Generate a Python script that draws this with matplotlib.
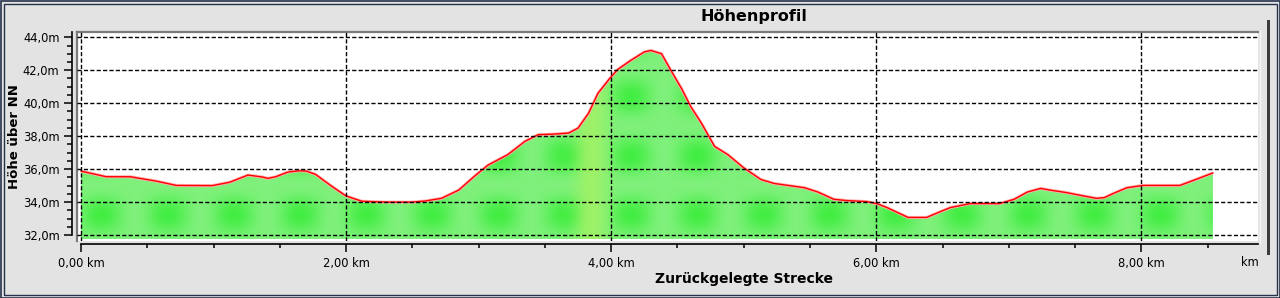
import numpy as np
import matplotlib
matplotlib.use('Agg')
import matplotlib.pyplot as plt
from matplotlib.patches import Rectangle
from matplotlib.lines import Line2D
from matplotlib.ticker import MultipleLocator

# elevation profile
distance_km = [0.00, 0.19, 0.37, 0.57, 0.72, 0.99, 1.12, 1.26, 1.37, 1.41, 1.47, 1.56,
               1.65, 1.70, 1.77, 1.89, 2.00, 2.12, 2.30, 2.50, 2.60, 2.72, 2.85, 2.97,
               3.07, 3.22, 3.35, 3.45, 3.58, 3.68, 3.75, 3.83, 3.90, 3.99, 4.05, 4.15,
               4.25, 4.30, 4.38, 4.45, 4.53, 4.60, 4.68, 4.78, 4.88, 5.00, 5.13, 5.23,
               5.46, 5.56, 5.68, 5.78, 5.93, 6.01, 6.08, 6.16, 6.24, 6.38, 6.48, 6.56,
               6.71, 6.93, 7.04, 7.14, 7.24, 7.31, 7.44, 7.54, 7.66, 7.72, 7.79, 7.89,
               8.01, 8.29, 8.41, 8.54]
elevation_m = [35.88, 35.54, 35.54, 35.27, 35.01, 35.00, 35.20, 35.64, 35.52, 35.44, 35.54, 35.82,
               35.90, 35.88, 35.68, 34.97, 34.37, 34.05, 34.00, 34.00, 34.07, 34.23, 34.73, 35.58,
               36.24, 36.88, 37.69, 38.09, 38.13, 38.19, 38.49, 39.40, 40.60, 41.51, 42.05, 42.61,
               43.11, 43.20, 43.00, 42.00, 40.90, 39.80, 38.80, 37.38, 36.88, 36.08, 35.37, 35.13,
               34.87, 34.61, 34.17, 34.09, 34.03, 33.89, 33.67, 33.37, 33.07, 33.07, 33.41, 33.67,
               33.91, 33.91, 34.17, 34.61, 34.83, 34.73, 34.57, 34.41, 34.23, 34.27, 34.53, 34.87,
               35.01, 35.01, 35.37, 35.77]

x_ticks = [0, 2, 4, 6, 8]
x_tick_labels = ['0,00 km', '2,00 km', '4,00 km', '6,00 km', '8,00 km']
y_ticks = [32, 34, 36, 38, 40, 42, 44]
y_tick_labels = ['32,0m', '34,0m', '36,0m', '38,0m', '40,0m', '42,0m', '44,0m']

W, H = 1280, 298
fig = plt.figure(figsize=(W / 100, H / 100), dpi=100, facecolor='#e3e3e3')

def px(x0, y0, x1, y1):
    # figure rect from pixel coords (top-left origin)
    return [x0 / W, 1 - y1 / H, (x1 - x0) / W, (y1 - y0) / H]

ax = fig.add_axes(px(76.5, 32, 1258, 241))
ax.set_facecolor('white')

base = 31.74
xmin, xmax = -0.034, 8.88
ax.set_xlim(xmin, xmax)
ax.set_ylim(31.64, 44.32)

# green fill with a blotchy texture clipped to the profile
poly = ax.fill_between(distance_km, elevation_m, base, color='none', lw=0)
gx = np.linspace(0, distance_km[-1], 700)
gy = np.linspace(base, max(elevation_m), 200)
X, Y = np.meshgrid(gx, gy)
t = (0.5 * (1 + np.cos(2 * np.pi * (X - 0.15) / 0.5))) * (0.5 * (1 + np.cos(2 * np.pi * (Y - 33.2) / 3.6)))
t = 0.3 + 0.7 * t
green = np.array([0.26, 0.93, 0.26])
pale = np.array([0.60, 0.95, 0.58])
img = pale[None, None, :] * (1 - t[..., None]) + green[None, None, :] * t[..., None]
band = np.exp(-((X - 3.85) / 0.12) ** 2)[..., None]
img = img * (1 - 0.6 * band) + np.array([0.70, 0.95, 0.36]) * 0.6 * band
im = ax.imshow(img, extent=[0, distance_km[-1], base, max(elevation_m)], origin='lower',
               aspect='auto', interpolation='bilinear', zorder=1)
im.set_clip_path(poly.get_paths()[0], transform=ax.transData)

ax.plot(distance_km, elevation_m, color='#ffb0b0', lw=2.2, zorder=2, solid_capstyle='butt')
ax.plot(distance_km, elevation_m, color='#ff0000', lw=1.0, zorder=2.1)

# grid
ax.set_xticks(x_ticks)
ax.set_xticklabels(x_tick_labels)
ax.set_yticks(y_ticks)
ax.set_yticklabels(y_tick_labels)
ax.xaxis.set_minor_locator(MultipleLocator(0.5))
ax.yaxis.set_minor_locator(MultipleLocator(0.5))
ax.grid(True, which='major', color='black', linestyle=(0, (3, 1.6)), lw=1.0)
ax.set_axisbelow(False)

# spines
ax.spines['right'].set_visible(False)
ax.spines['top'].set_color('#7a7a7a')
ax.spines['top'].set_linewidth(1.6)
ax.spines['left'].set_position(('outward', 3.2))
ax.spines['left'].set_bounds(32, 44.3)
ax.spines['left'].set_color('black')
ax.spines['left'].set_linewidth(1.2)
ax.spines['bottom'].set_position(('outward', 1.8))
ax.spines['bottom'].set_bounds(0, xmax)
ax.spines['bottom'].set_color('black')
ax.spines['bottom'].set_linewidth(1.2)
ax.add_line(Line2D([0, 0], [0, 1], transform=ax.transAxes, color='#7a7a7a', lw=1.6, clip_on=False))

ax.tick_params(axis='y', which='major', length=5.5, width=1.1, pad=3.5, labelsize=8.3, colors='black')
ax.tick_params(axis='y', which='minor', length=3.6, width=1.1)
ax.tick_params(axis='x', which='major', length=5.5, width=1.1, pad=4, labelsize=8.3, colors='black')
ax.tick_params(axis='x', which='minor', length=2.6, width=1.1)

# titles
fig.text(754 / W, 1 - 16 / H, 'Höhenprofil', ha='center', va='center', fontsize=11.5, fontweight='bold')
fig.text(744 / W, 1 - 278.5 / H, 'Zurückgelegte Strecke', ha='center', va='center', fontsize=10, fontweight='bold')
fig.text(15 / W, 1 - 137 / H, 'Höhe über NN', ha='center', va='center', rotation=90, fontsize=9.5, fontweight='bold')
fig.text(1250 / W, 1 - 262.5 / H, 'km', ha='center', va='center', fontsize=8.3)

# window decoration
fig.add_artist(Rectangle((1267 / W, 1 - 255 / H), 2.5 / W, 235 / H, transform=fig.transFigure,
                         color='#3c3c3c', lw=0))
fig.add_artist(Line2D([1259.5 / W, 1259.5 / W], [1 - 243 / H, 1 - 31 / H], transform=fig.transFigure,
                      color='#f4f4f4', lw=1))
fig.add_artist(Rectangle((0.5 / W, 0.5 / H), (W - 1) / W, (H - 1) / H, transform=fig.transFigure,
                         fill=False, ec='#26324a', lw=1.2))
fig.add_artist(Rectangle((3.5 / W, 3.5 / H), (W - 7) / W, (H - 7) / H, transform=fig.transFigure,
                         fill=False, ec='#26324a', lw=1.0))

fig.savefig('out.png', dpi=100, facecolor=fig.get_facecolor())
